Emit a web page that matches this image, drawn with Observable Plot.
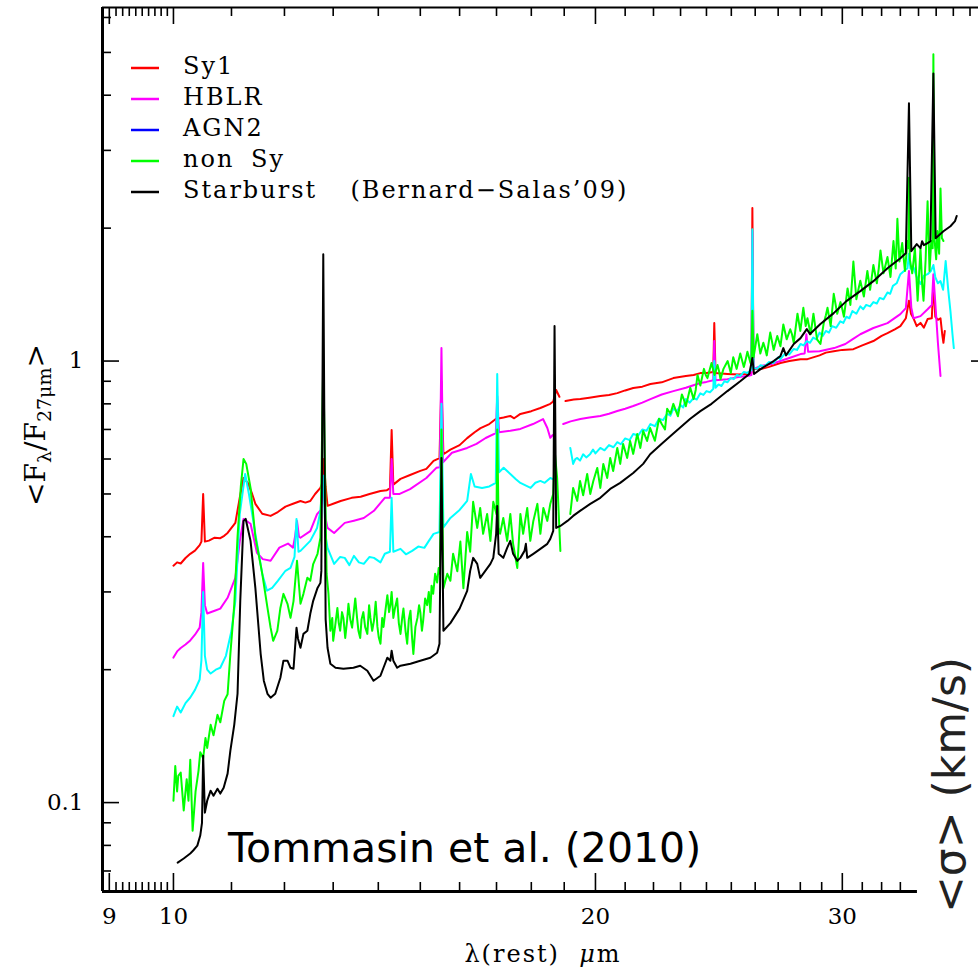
<!DOCTYPE html>
<html><head><meta charset="utf-8">
<script src="https://cdn.jsdelivr.net/npm/d3@7"></script>
<script src="https://cdn.jsdelivr.net/npm/@observablehq/plot@0.6"></script>
<style>html,body{margin:0;padding:0;background:#fff;overflow:hidden}</style>
</head><body><div id="chart"></div>
<script>
// ---- data: [wavelength (micron), <F_lambda/F_27um>] ; null = gap in spectrum
const sy1 = [[10.00,0.344],[10.06,0.35],[10.12,0.348],[10.2,0.358],[10.28,0.366],[10.36,0.372],[10.44,0.383],[10.47,0.39],[10.5,0.50],[10.53,0.39],[10.6,0.392],[10.7,0.398],[10.8,0.397],[10.87,0.402],[10.93,0.408],[11.07,0.43],[11.15,0.49],[11.22,0.5435],[11.3,0.53],[11.38,0.50],[11.44,0.475],[11.57,0.451],[11.73,0.446],[11.87,0.455],[12.02,0.468],[12.17,0.475],[12.32,0.482],[12.42,0.478],[12.52,0.482],[12.62,0.50],[12.73,0.516],[12.77,0.53],[12.8,0.60],[12.84,0.52],[12.88,0.47],[13.0,0.475],[13.16,0.482],[13.4,0.49],[13.6,0.493],[13.8,0.50],[14.05,0.508],[14.2,0.51],[14.27,0.515],[14.31,0.698],[14.35,0.525],[14.52,0.541],[14.75,0.552],[15.0,0.564],[15.15,0.57],[15.33,0.594],[15.48,0.603],[15.53,0.9],[15.58,0.615],[15.76,0.63],[16.0,0.645],[16.2,0.669],[16.4,0.69],[16.56,0.705],[16.8,0.72],[16.98,0.739],[17.2,0.745],[17.39,0.751],[17.5,0.742],[17.68,0.759],[18.0,0.77],[18.27,0.783],[18.57,0.80],[18.66,0.81],[18.75,0.86],[18.85,0.83],[18.95,null],[19.04,0.812],[19.3,0.818],[19.51,0.82],[19.8,0.826],[20.16,0.833],[20.45,0.838],[20.73,0.846],[21.0,0.858],[21.28,0.869],[21.6,0.875],[21.89,0.887],[22.3,0.895],[22.73,0.915],[23.2,0.925],[23.5,0.93],[23.76,0.939],[24.0,0.94],[24.27,0.945],[24.31,1.22],[24.36,0.94],[24.6,0.937],[24.84,0.935],[25.3,0.932],[25.67,0.935],[25.84,0.94],[25.88,2.22],[25.93,0.96],[26.23,0.959],[26.6,0.97],[27.1,0.99],[27.5,1.0],[28.01,1.01],[28.33,1.01],[28.9,1.03],[29.2,1.045],[29.58,1.053],[30.0,1.06],[30.55,1.064],[31.0,1.085],[31.57,1.11],[32.0,1.14],[32.31,1.157],[32.7,1.18],[33.0,1.20],[33.3,1.25],[33.47,1.37],[33.58,1.28],[33.72,1.25],[33.9,1.2],[34.11,1.22],[34.3,1.19],[34.51,1.245],[34.75,1.25],[34.84,1.5],[34.95,1.26],[35.1,1.24],[35.25,1.25],[35.35,1.15],[35.42,1.10],[35.5,1.17]];

const hblr = [[10.0,0.213],[10.06,0.22],[10.12,0.224],[10.2,0.228],[10.28,0.233],[10.36,0.24],[10.44,0.249],[10.47,0.27],[10.5,0.349],[10.53,0.28],[10.57,0.268],[10.7,0.272],[10.8,0.275],[10.93,0.291],[11.07,0.323],[11.15,0.39],[11.22,0.439],[11.35,0.428],[11.47,0.368],[11.58,0.356],[11.73,0.353],[11.9,0.378],[12.07,0.386],[12.17,0.378],[12.21,0.40],[12.25,0.434],[12.29,0.40],[12.32,0.398],[12.52,0.412],[12.66,0.45],[12.74,0.46],[12.79,0.55],[12.84,0.44],[12.88,0.419],[13.02,0.408],[13.25,0.43],[13.45,0.435],[13.67,0.441],[13.9,0.458],[14.15,0.49],[14.27,0.49],[14.31,0.6],[14.35,0.50],[14.5,0.50],[14.75,0.513],[15.15,0.5435],[15.4,0.573],[15.49,0.575],[15.53,1.07],[15.57,0.59],[15.8,0.62],[16.2,0.6357],[16.45,0.649],[16.7,0.6694],[16.98,0.687],[17.02,0.833],[17.07,0.69],[17.39,0.695],[17.68,0.702],[18.05,0.72],[18.35,0.739],[18.48,0.7055],[18.57,0.67],[18.64,0.68],[18.7,null],[18.97,0.72],[19.2,0.73],[19.51,0.739],[19.8,0.745],[20.16,0.751],[20.45,0.76],[20.73,0.7705],[21.0,0.78],[21.28,0.791],[21.6,0.805],[21.89,0.82],[22.3,0.84],[22.73,0.855],[23.2,0.87],[23.76,0.892],[24.0,0.897],[24.27,0.905],[24.31,1.11],[24.36,0.905],[24.84,0.91],[25.3,0.92],[25.67,0.925],[25.84,0.93],[25.88,1.97],[25.93,0.96],[26.23,0.974],[26.7,0.985],[27.1,1.0],[27.6,1.02],[28.01,1.037],[28.2,1.04],[28.28,1.15],[28.36,1.05],[28.9,1.053],[29.6,1.07],[30.15,1.093],[30.5,1.12],[30.9,1.15],[31.57,1.188],[32.31,1.219],[33.0,1.277],[33.3,1.318],[33.47,1.6],[33.6,1.32],[33.72,1.25],[34.11,1.264],[34.51,1.31],[34.75,1.34],[34.84,1.573],[34.98,1.3],[35.1,1.1],[35.25,0.925]];

const agn2Cyan = [[10.0,0.157],[10.06,0.165],[10.12,0.160],[10.2,0.168],[10.28,0.173],[10.36,0.18],[10.44,0.19],[10.47,0.21],[10.5,0.3],[10.53,0.215],[10.57,0.2],[10.63,0.196],[10.72,0.2],[10.8,0.202],[10.9,0.215],[11.0,0.245],[11.07,0.286],[11.15,0.45],[11.25,0.555],[11.32,0.5],[11.44,0.406],[11.57,0.33],[11.66,0.302],[11.76,0.3065],[11.87,0.3178],[12.02,0.335],[12.12,0.34],[12.2,0.36],[12.24,0.439],[12.28,0.37],[12.32,0.3716],[12.52,0.3915],[12.66,0.4188],[12.73,0.4577],[12.79,0.55],[12.84,0.40],[12.88,0.3775],[13.02,0.3473],[13.15,0.36],[13.25,0.3583],[13.35,0.345],[13.45,0.362],[13.56,0.35],[13.67,0.3473],[13.8,0.36],[13.9,0.3583],[14.05,0.35],[14.15,0.366],[14.27,0.37],[14.31,0.49],[14.35,0.37],[14.52,0.3756],[14.65,0.365],[14.8,0.3716],[14.95,0.38],[15.1,0.3775],[15.2,0.39],[15.33,0.4061],[15.48,0.41],[15.53,0.8],[15.58,0.42],[15.76,0.4413],[16.0,0.46],[16.2,0.4823],[16.3,0.555],[16.4,0.52],[16.6,0.516],[16.8,0.52],[16.98,0.53],[17.02,0.9345],[17.07,0.56],[17.2,0.573],[17.39,0.555],[17.55,0.54],[17.68,0.5297],[17.98,0.516],[18.12,0.53],[18.27,0.5352],[18.4,0.53],[18.57,0.5435],[18.65,0.54],[18.7,null],[19.19,0.6357],[19.28,0.5848],[19.35,0.60],[19.41,0.6034],[19.5,0.595],[19.6,0.615],[19.7,0.605],[19.83,0.6162],[19.92,0.63],[20.0,0.618],[20.16,0.6357],[20.3,0.628],[20.45,0.645],[20.6,0.638],[20.73,0.655],[20.85,0.648],[21.0,0.668],[21.15,0.662],[21.28,0.6838],[21.45,0.678],[21.6,0.70],[21.75,0.695],[21.89,0.72],[22.05,0.712],[22.2,0.74],[22.35,0.735],[22.5,0.76],[22.62,0.752],[22.73,0.78],[22.87,0.77],[23.0,0.795],[23.1,0.785],[23.2,0.82],[23.35,0.805],[23.5,0.825],[23.62,0.818],[23.76,0.845],[23.88,0.838],[24.0,0.855],[24.14,0.85],[24.27,0.865],[24.31,1.0],[24.36,0.87],[24.48,0.885],[24.6,0.878],[24.72,0.9],[24.84,0.895],[24.97,0.915],[25.1,0.91],[25.23,0.93],[25.37,0.925],[25.52,0.945],[25.67,0.94],[25.84,0.955],[25.88,1.989],[25.93,0.965],[26.08,0.96],[26.23,0.978],[26.4,0.972],[26.6,0.995],[26.8,0.99],[27.0,1.02],[27.1,1.01],[27.3,1.04],[27.5,1.035],[27.7,1.065],[27.85,1.06],[28.01,1.093],[28.15,1.085],[28.3,1.11],[28.45,1.1],[28.6,1.13],[28.75,1.12],[28.9,1.16],[29.05,1.14],[29.2,1.17],[29.35,1.16],[29.5,1.2],[29.7,1.19],[29.9,1.23],[30.05,1.22],[30.2,1.26],[30.35,1.25],[30.5,1.298],[30.7,1.28],[30.9,1.33],[31.05,1.31],[31.2,1.34],[31.4,1.33],[31.57,1.36],[31.75,1.35],[31.9,1.39],[32.1,1.38],[32.31,1.43],[32.45,1.42],[32.6,1.48],[32.8,1.5],[33.0,1.573],[33.2,1.6],[33.39,1.623],[33.47,1.75],[33.55,1.62],[33.72,1.63],[33.9,1.55],[34.11,1.494],[34.3,1.56],[34.51,1.573],[34.7,1.6],[34.84,1.65],[34.95,1.55],[35.1,1.5],[35.25,1.517],[35.4,1.45],[35.55,1.684],[35.7,1.45],[35.83,1.298],[35.95,1.15],[36.03,1.07]];

const nonSy = [[10.0,0.101],[10.03,0.121],[10.06,0.106],[10.08,0.115],[10.12,0.117],[10.17,0.096],[10.22,0.113],[10.25,0.101],[10.28,0.125],[10.32,0.0864],[10.37,0.106],[10.42,0.118],[10.45,0.13],[10.5,0.126],[10.54,0.14],[10.57,0.133],[10.63,0.15],[10.68,0.142],[10.75,0.158],[10.8,0.152],[10.87,0.17],[10.93,0.176],[10.98,0.217],[11.05,0.28],[11.11,0.40],[11.17,0.52],[11.22,0.60],[11.27,0.585],[11.35,0.516],[11.44,0.40],[11.57,0.33],[11.67,0.276],[11.73,0.249],[11.78,0.2325],[11.86,0.245],[11.92,0.276],[11.98,0.297],[12.06,0.282],[12.12,0.262],[12.18,0.286],[12.25,0.353],[12.32,0.282],[12.38,0.297],[12.46,0.323],[12.52,0.318],[12.58,0.347],[12.67,0.366],[12.73,0.398],[12.79,1.0],[12.86,0.33],[12.9,0.297],[12.94,0.245],[12.98,0.262],[13.0,0.2325],[13.04,0.25],[13.09,0.276],[13.12,0.255],[13.15,0.245],[13.19,0.27],[13.22,0.262],[13.26,0.236],[13.3,0.258],[13.33,0.282],[13.37,0.26],[13.41,0.249],[13.44,0.266],[13.48,0.29],[13.52,0.262],[13.55,0.245],[13.59,0.236],[13.62,0.26],[13.66,0.27],[13.7,0.25],[13.75,0.241],[13.79,0.28],[13.82,0.262],[13.86,0.245],[13.9,0.258],[13.94,0.285],[13.98,0.25],[14.01,0.237],[14.05,0.229],[14.09,0.262],[14.12,0.25],[14.17,0.275],[14.21,0.295],[14.25,0.27],[14.28,0.28],[14.31,0.3],[14.35,0.262],[14.39,0.276],[14.44,0.29],[14.48,0.255],[14.52,0.241],[14.56,0.262],[14.59,0.275],[14.64,0.245],[14.68,0.229],[14.72,0.26],[14.76,0.272],[14.8,0.235],[14.83,0.217],[14.88,0.25],[14.93,0.262],[14.97,0.28],[15.0,0.27],[15.04,0.245],[15.07,0.258],[15.12,0.29],[15.17,0.28],[15.21,0.3],[15.25,0.27],[15.28,0.31],[15.32,0.297],[15.37,0.33],[15.42,0.315],[15.46,0.34],[15.49,0.33],[15.53,0.7],[15.58,0.306],[15.68,0.3297],[15.76,0.318],[15.83,0.366],[15.94,0.334],[16.02,0.39],[16.1,0.306],[16.2,0.41],[16.28,0.37],[16.36,0.48],[16.47,0.4188],[16.55,0.4649],[16.63,0.4061],[16.74,0.4506],[16.83,0.3915],[16.91,0.48],[17.0,0.45],[17.02,0.7],[17.06,0.42],[17.1,0.4061],[17.19,0.4413],[17.3,0.3915],[17.39,0.4506],[17.47,0.3855],[17.59,0.34],[17.68,0.4506],[17.76,0.4061],[17.88,0.4649],[17.97,0.3915],[18.06,0.4345],[18.18,0.4748],[18.27,0.4061],[18.36,0.4649],[18.48,0.4345],[18.57,0.4748],[18.66,0.5],[18.71,0.62],[18.78,0.5435],[18.88,0.3716],[18.95,null],[19.19,0.4506],[19.28,0.516],[19.41,0.4823],[19.5,0.5352],[19.6,0.4964],[19.73,0.555],[19.83,0.5],[19.93,0.5352],[20.06,0.5728],[20.16,0.516],[20.26,0.5848],[20.39,0.5435],[20.49,0.6034],[20.59,0.5637],[20.73,0.6357],[20.83,0.5848],[20.93,0.649],[21.07,0.6034],[21.17,0.6592],[21.28,0.6162],[21.42,0.6838],[21.53,0.6357],[21.63,0.6945],[21.77,0.6592],[21.88,0.705],[22.05,0.66],[22.2,0.74],[22.3,0.72],[22.42,0.70],[22.5,0.78],[22.62,0.76],[22.73,0.80],[22.9,0.75],[23.05,0.84],[23.12,0.82],[23.2,0.79],[23.37,0.87],[23.5,0.82],[23.58,0.86],[23.65,0.93],[23.76,0.88],[23.9,0.96],[23.97,0.93],[24.04,0.915],[24.2,0.99],[24.32,0.93],[24.44,0.98],[24.5,0.95],[24.56,0.91],[24.68,0.96],[24.85,1.0],[24.98,0.94],[25.08,1.02],[25.15,0.99],[25.22,0.96],[25.37,1.04],[25.52,0.97],[25.6,1.01],[25.67,1.05],[25.8,0.99],[25.84,1.0],[25.88,1.3],[25.93,1.02],[26.09,1.15],[26.22,1.04],[26.35,1.1],[26.42,1.07],[26.5,1.03],[26.65,1.16],[26.8,1.06],[26.96,1.14],[27.03,1.11],[27.1,1.08],[27.23,1.21],[27.38,1.12],[27.54,1.18],[27.62,1.15],[27.7,1.10],[27.87,1.28],[28.0,1.17],[28.14,1.32],[28.25,1.2],[28.33,1.25],[28.48,1.15],[28.61,1.28],[28.78,1.12],[28.94,1.093],[29.1,1.22],[29.2,1.27],[29.28,1.32],[29.43,1.2],[29.58,1.42],[29.75,1.28],[29.91,1.36],[30.0,1.31],[30.08,1.26],[30.26,1.46],[30.4,1.34],[30.55,1.68],[30.7,1.38],[30.8,1.45],[30.9,1.52],[31.08,1.4],[31.26,1.6],[31.4,1.45],[31.57,1.65],[31.75,1.5],[31.85,1.62],[31.94,1.78],[32.1,1.58],[32.31,1.72],[32.47,1.55],[32.63,1.87],[32.75,1.62],[32.84,2.1],[32.95,1.68],[33.1,1.85],[33.25,1.6],[33.39,1.87],[33.44,1.8],[33.47,2.6],[33.52,1.7],[33.65,1.58],[33.8,1.8],[33.95,1.37],[34.11,1.8],[34.2,1.5],[34.28,1.37],[34.4,1.7],[34.51,2.3],[34.62,1.6],[34.72,1.87],[34.8,1.8],[34.84,4.95],[34.9,1.9],[35.0,1.7],[35.07,1.97],[35.17,1.75],[35.25,2.46],[35.33,1.9],[35.42,1.87]];

const starburst = [[10.07,0.0731],[10.17,0.0747],[10.28,0.0767],[10.33,0.0779],[10.4,0.0799],[10.45,0.0842],[10.48,0.09],[10.5,0.1277],[10.53,0.0949],[10.57,0.101],[10.63,0.1064],[10.68,0.1037],[10.75,0.1075],[10.8,0.1048],[10.86,0.1081],[10.93,0.1163],[10.98,0.1311],[11.05,0.15],[11.11,0.1764],[11.16,0.2864],[11.22,0.4345],[11.26,0.439],[11.35,0.3915],[11.44,0.3064],[11.54,0.2173],[11.6,0.1888],[11.67,0.1764],[11.73,0.1728],[11.82,0.1764],[11.92,0.1918],[11.98,0.2096],[12.06,0.2096],[12.12,0.202],[12.18,0.201],[12.24,0.2489],[12.27,0.235],[12.32,0.2242],[12.38,0.2411],[12.46,0.245],[12.52,0.2676],[12.58,0.2864],[12.67,0.3064],[12.73,0.3145],[12.75,0.3348],[12.79,1.746],[12.84,0.26],[12.88,0.2242],[12.94,0.2063],[13.05,0.202],[13.22,0.201],[13.44,0.202],[13.59,0.2042],[13.75,0.1989],[13.89,0.1888],[14.05,0.1938],[14.12,0.202],[14.21,0.2129],[14.28,0.2096],[14.31,0.2208],[14.35,0.2096],[14.44,0.202],[14.52,0.2042],[14.76,0.2063],[15.0,0.2096],[15.25,0.2129],[15.42,0.2185],[15.48,0.2289],[15.53,0.6034],[15.58,0.245],[15.76,0.255],[16.0,0.275],[16.2,0.3017],[16.28,0.3348],[16.36,0.3583],[16.47,0.3473],[16.55,0.3228],[16.63,0.3297],[16.83,0.3473],[16.91,0.3583],[16.99,0.4061],[17.02,0.4697],[17.06,0.366],[17.19,0.3583],[17.3,0.3775],[17.39,0.3915],[17.47,0.366],[17.59,0.3528],[17.68,0.3583],[17.8,0.3716],[17.84,0.3855],[17.88,0.3583],[18.06,0.366],[18.27,0.3755],[18.48,0.3855],[18.57,0.3956],[18.66,0.4123],[18.7,1.20],[18.75,0.4188],[18.88,0.4232],[19.1,0.4345],[19.28,0.446],[19.5,0.4577],[19.83,0.4748],[20.16,0.49],[20.49,0.5133],[20.83,0.5297],[21.28,0.5579],[21.63,0.585],[21.88,0.615],[22.3,0.65],[22.73,0.685],[23.37,0.74],[23.76,0.77],[24.2,0.80],[24.84,0.855],[25.37,0.90],[25.75,0.935],[25.88,1.016],[25.95,0.935],[26.23,0.959],[26.8,1.0],[27.1,1.026],[27.23,1.07],[27.35,1.03],[27.7,1.093],[28.01,1.127],[28.3,1.181],[28.45,1.151],[28.94,1.213],[29.58,1.284],[30.2,1.367],[30.9,1.44],[31.57,1.517],[32.31,1.623],[33.0,1.71],[33.3,1.755],[33.47,3.835],[33.6,1.774],[33.9,1.84],[34.11,1.802],[34.2,1.868],[34.3,1.83],[34.51,1.849],[34.67,1.868],[34.84,4.48],[34.97,1.898],[35.42,1.968],[35.83,2.02],[36.1,2.074],[36.2,2.13]];

// ---- legend / axis tick definitions
const legendNames = ["Sy1", "HBLR", "AGN2", "non Sy", "Starburst  (Bernard\u2212Salas\u201909)"];
const legendColors = ["#ff0000", "#ff00ff", "#0000ff", "#00ff00", "#000000"];
const xMajorTicks = [9, 10, 20, 30];
const xMinorBottom = [9.1,9.2,9.3,9.4,9.5,9.6,9.7,9.8,9.9,11,12,13,14,15,16,17,18,19,21,22,23,24,25,26,27,28,29,31,32,33];
const xMinorTop = [...xMinorBottom, 34, 35, 36, 37];
const yMajorTicks = [0.1, 1];
const yMinorTicks = [0.07,0.08,0.09,0.2,0.3,0.4,0.5,0.6,0.7,0.8,0.9,2,3,4,5,6];
const xDomain = [8.9, 37.52];
const yDomain = [0.0629, 6.32];
const xBottomEnd = 33.94;

const L = (data, color) => Plot.line(data, {x: d => d[0], y: d => d[1], stroke: color, strokeWidth: 2});

const chart = Plot.plot({
  width: 978, height: 972,
  marginLeft: 102, marginRight: 0, marginTop: 7, marginBottom: 81,
  style: {fontFamily: "DejaVu Serif", fontSize: "23px", background: "#fff", overflow: "hidden"},
  x: {type: "log", domain: xDomain},
  y: {type: "log", domain: yDomain},
  marks: [
    L(sy1, "#ff0000"),
    L(hblr, "#ff00ff"),
    L(agn2Cyan, "#00ffff"),
    L(nonSy, "#00ff00"),
    L(starburst, "#000000"),
    // frame
    Plot.ruleX([xDomain[0]], {stroke: "#000", strokeWidth: 3}),
    Plot.ruleY([yDomain[1]], {stroke: "#000", strokeWidth: 2}),
    Plot.ruleY([yDomain[0]], {x1: xDomain[0], x2: xBottomEnd, stroke: "#000", strokeWidth: 3}),
    // inward ticks
    Plot.axisX(xMajorTicks, {anchor: "bottom", tickSize: 18, dy: -18, fill: null, label: null, strokeWidth: 1.6}),
    Plot.axisX(xMinorBottom, {anchor: "bottom", tickSize: 9, dy: -9, fill: null, label: null, strokeWidth: 1.6}),
    Plot.axisX(xMajorTicks, {anchor: "top", tickSize: 16, dy: 16, fill: null, label: null, strokeWidth: 1.6}),
    Plot.axisX(xMinorTop, {anchor: "top", tickSize: 8, dy: 8, fill: null, label: null, strokeWidth: 1.6}),
    Plot.axisY(yMajorTicks, {anchor: "left", tickSize: 17, dx: 17, fill: null, label: null, strokeWidth: 1.6}),
    Plot.axisY(yMinorTicks, {anchor: "left", tickSize: 9, dx: 9, fill: null, label: null, strokeWidth: 1.6}),
    Plot.axisY([1], {anchor: "right", tickSize: 8, dx: -8, fill: null, label: null, strokeWidth: 1.6}),
    // tick labels
    Plot.text(xMajorTicks, {x: d => d, frameAnchor: "bottom", dy: 25, lineAnchor: "middle", text: d => String(d), fontSize: 23, fill: "#000"}),
    Plot.text(yMajorTicks, {y: d => d, frameAnchor: "left", dx: -19, textAnchor: "end", text: d => String(d), fontSize: 23, fill: "#000"})
  ]
});
document.getElementById("chart").appendChild(chart);

const svg = d3.select(chart);
// legend
const lg = svg.append("g").attr("font-family", "DejaVu Serif").attr("font-size", 24)
  .attr("letter-spacing", "2px").attr("text-anchor", "start");
legendNames.forEach((name, i) => {
  const y = 68 + i * 31;
  lg.append("line").attr("x1", 131).attr("x2", 159).attr("y1", y).attr("y2", y)
    .attr("stroke", legendColors[i]).attr("stroke-width", 2.5);
  lg.append("text").attr("x", 183).attr("y", y + 6).attr("text-anchor", "start").style("white-space", "pre")
    .attr("word-spacing", "7px").text(name);
});
// x axis label
const xl = svg.append("text").attr("x", 543).attr("y", 962).attr("text-anchor", "middle")
  .attr("font-family", "DejaVu Serif").attr("font-size", 24).attr("letter-spacing", "2px").style("white-space", "pre");
xl.append("tspan").text("\u03bb(rest)  ");
xl.append("tspan").attr("font-style", "italic").text("\u03bc");
xl.append("tspan").text("m");
// y axis label
const yl = svg.append("text").attr("transform", "translate(45,425) rotate(-90)").attr("text-anchor", "middle")
  .attr("font-family", "DejaVu Serif").attr("font-size", 28);
yl.append("tspan").text("<F");
yl.append("tspan").attr("font-size", 19).attr("dy", 6).text("\u03bb");
yl.append("tspan").attr("dy", -6).text("/F");
yl.append("tspan").attr("font-size", 19).attr("dy", 6).text("27\u03bcm");
yl.append("tspan").attr("dy", -6).text(">");
// annotation
svg.append("text").attr("x", 228).attr("y", 862).attr("text-anchor", "start")
  .attr("font-family", "DejaVu Sans").attr("font-size", 41).text("Tommasin et al. (2010)");
// neighbouring panel's axis label (at the right edge)
svg.append("text").attr("transform", "translate(965,913) rotate(-90)").attr("text-anchor", "start")
  .attr("font-family", "DejaVu Sans").attr("font-size", 44).attr("fill", "#222")
  .style("white-space", "pre").text("<\u03c3> (km/s)");
</script>
</body></html>
